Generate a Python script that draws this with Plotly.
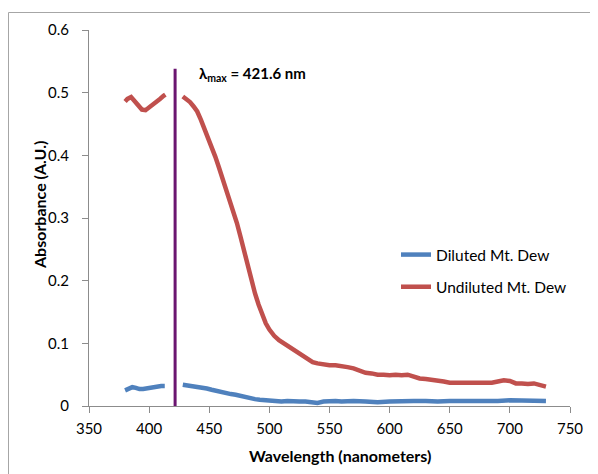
import plotly.graph_objects as go

# Undiluted Mt. Dew (None = gap where the λmax marker sits)
red_nm = [380, 382, 385, 388, 391, 394, 397, 400, 403, 406, 409, 412, 413.5, 420,
          428, 431, 434, 437, 440, 443, 446, 449, 452, 455, 458, 461, 464, 467, 470,
          473, 476, 479, 482, 485, 488, 491, 494, 497, 500, 504, 508, 512, 516, 520,
          524, 528, 532, 536, 540, 545, 550, 555, 560, 565, 570, 575, 580, 585, 590,
          595, 600, 605, 610, 615, 620, 625, 630, 635, 640, 645, 650, 655, 660, 665,
          670, 675, 680, 685, 690, 695, 700, 705, 710, 715, 720, 725, 730]
red_abs = [0.486, 0.490, 0.493, 0.487, 0.479, 0.473, 0.472, 0.476, 0.481, 0.485, 0.490, 0.495, 0.497, None,
           0.494, 0.490, 0.485, 0.478, 0.470, 0.457, 0.443, 0.430, 0.415, 0.398, 0.381, 0.364, 0.346, 0.329, 0.310,
           0.292, 0.270, 0.246, 0.222, 0.200, 0.180, 0.162, 0.146, 0.132, 0.122, 0.112, 0.105, 0.100, 0.095, 0.088,
           0.083, 0.078, 0.073, 0.070, 0.068, 0.066, 0.065, 0.065, 0.064, 0.062, 0.060, 0.056, 0.053, 0.052, 0.050,
           0.050, 0.049, 0.050, 0.049, 0.050, 0.047, 0.044, 0.043, 0.042, 0.041, 0.039, 0.037, 0.037, 0.038, 0.038,
           0.037, 0.038, 0.038, 0.037, 0.039, 0.041, 0.040, 0.036, 0.036, 0.035, 0.036, 0.034, 0.031]

# Diluted Mt. Dew
blue_nm = [380, 383, 386, 389, 392, 395, 398, 401, 404, 407, 410, 413, 420,
           428, 432, 436, 440, 444, 448, 452, 456, 460, 464, 468, 472, 476, 480, 484,
           488, 492, 496, 500, 505, 510, 515, 520, 525, 530, 535, 540, 545, 550, 555,
           560, 570, 580, 590, 600, 610, 620, 630, 640, 650, 660, 670, 680, 690, 700,
           710, 720, 730]
blue_abs = [0.025, 0.028, 0.030, 0.029, 0.027, 0.027, 0.028, 0.030, 0.030, 0.031, 0.032, 0.032, None,
            0.034, 0.033, 0.032, 0.031, 0.029, 0.028, 0.026, 0.024, 0.022, 0.021, 0.019, 0.018, 0.016, 0.015, 0.013,
            0.011, 0.010, 0.009, 0.008, 0.008, 0.007, 0.008, 0.007, 0.007, 0.007, 0.006, 0.005, 0.007, 0.008, 0.008,
            0.007, 0.008, 0.007, 0.006, 0.007, 0.008, 0.008, 0.008, 0.007, 0.008, 0.008, 0.008, 0.007, 0.008, 0.009,
            0.009, 0.009, 0.008]

lambda_max = 421.6
marker_top = 0.538

x_ticks = [350, 400, 450, 500, 550, 600, 650, 700, 750]
y_ticks = [0, 0.1, 0.2, 0.3, 0.4, 0.5, 0.6]
y_tick_text = ["0", "0.1", "0.2", "0.3", "0.4", "0.5", "0.6"]

FONT = "Lato, Open Sans, sans-serif"

# page body has an 8px margin; figure is sized/placed to compensate
W, H = 590, 466
L, R, T, B = 81, 28, 22, 68
PW, PH = W - L - R, H - T - B  # 481 x 376

fig = go.Figure()
fig.add_trace(go.Scatter(x=blue_nm, y=blue_abs, mode="lines", name="Diluted Mt. Dew",
                         legendgroup="d", line=dict(color="#4F81BD", width=4.5), connectgaps=False))
fig.add_trace(go.Scatter(x=red_nm, y=red_abs, mode="lines", name="Undiluted Mt. Dew",
                         legendgroup="u", line=dict(color="#C0504D", width=4.5), connectgaps=False))

fig.add_shape(type="line", xref="x", yref="y", x0=lambda_max, x1=lambda_max, y0=0, y1=marker_top,
              line=dict(color="#6B1570", width=3))

# outer chart border
fig.add_shape(type="rect", xref="paper", yref="paper",
              x0=(0.5 - L) / PW, x1=(W + 20 - L) / PW, y0=-(H + 20 - T - PH) / PH, y1=(T + PH - 4.5) / PH,
              line=dict(color="#A6A6A6", width=1), fillcolor="rgba(0,0,0,0)", layer="below")

fig.add_annotation(x=440, y=0.530, xref="x", yref="y", xanchor="left", yanchor="middle",
                   text="<b>λ<sub>max</sub> = 421.6 nm</b>", showarrow=False,
                   font=dict(family=FONT, size=15, color="#000000"))

# axis titles
fig.add_annotation(x=(332 - L) / PW, y=-(447 - T - PH) / PH, xref="paper", yref="paper",
                   xanchor="center", yanchor="middle", showarrow=False,
                   text="<b>Wavelength (nanometers)</b>",
                   font=dict(family=FONT, size=16, color="#000000"))
fig.add_annotation(x=-(L - 31) / PW, y=1 - (197 - T) / PH, xref="paper", yref="paper",
                   xanchor="center", yanchor="middle", showarrow=False, textangle=-90,
                   text="<b>Absorbance (A.U.)</b>",
                   font=dict(family=FONT, size=16, color="#000000"))

fig.update_layout(
    width=W, height=H,
    margin=dict(l=L, r=R, t=T, b=B),
    paper_bgcolor="white", plot_bgcolor="white",
    font=dict(family=FONT, size=15, color="#000000"),
    showlegend=True,
    legend=dict(x=(428 - 40 - L) / PW, y=1 - (263 - T) / PH, xanchor="left", yanchor="middle",
                font=dict(family=FONT, size=15.5, color="#000000"),
                traceorder="grouped", itemwidth=30, tracegroupgap=9, bgcolor="rgba(0,0,0,0)"),
    xaxis=dict(range=[350, 750], tickvals=x_ticks, showgrid=False, zeroline=False,
               showline=True, linecolor="#8C8C8C", linewidth=1,
               ticks="outside", ticklen=6, tickcolor="#8C8C8C", ticklabelstandoff=3,
               tickfont=dict(family=FONT, size=15, color="#000000")),
    yaxis=dict(range=[0, 0.6], tickvals=y_ticks, ticktext=y_tick_text, showgrid=False, zeroline=False,
               showline=True, linecolor="#8C8C8C", linewidth=1,
               ticks="outside", ticklen=6, tickcolor="#8C8C8C", ticklabelstandoff=10,
               tickfont=dict(family=FONT, size=15, color="#000000")),
)

fig.write_html("out.html")
